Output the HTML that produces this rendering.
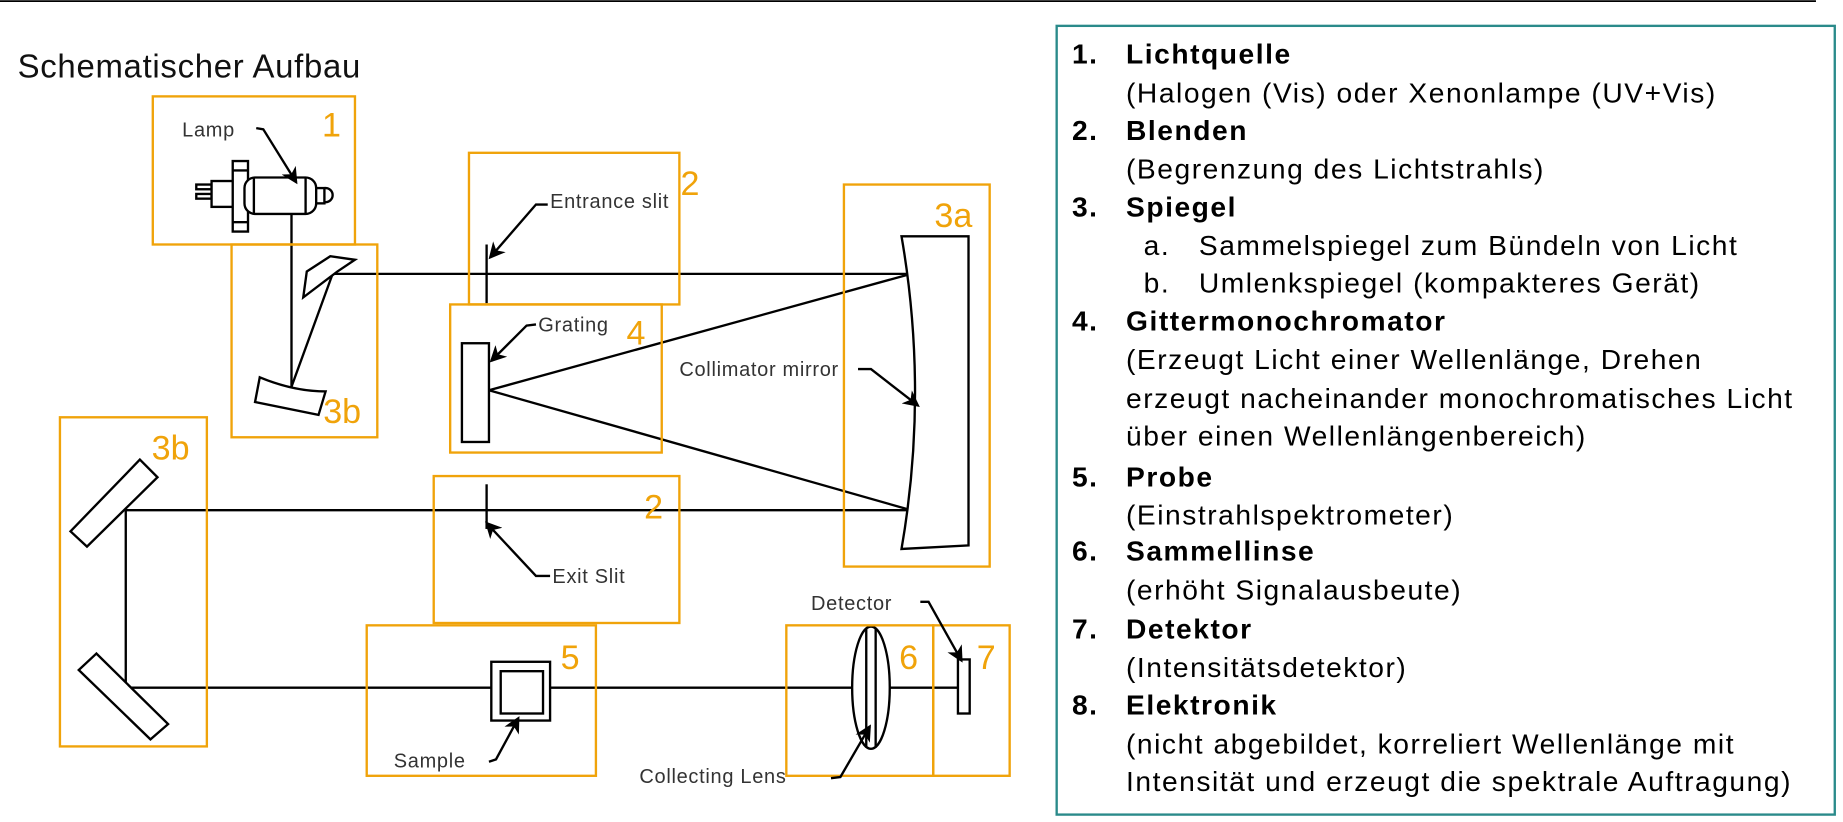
<!DOCTYPE html>
<html><head><meta charset="utf-8"><style>
html,body{margin:0;padding:0;background:#fff;}
svg{display:block;}
text{font-family:"Liberation Sans",sans-serif;}
.o{fill:none;stroke:#f0a30a;stroke-width:2;}
.k{fill:none;stroke:#000;stroke-width:2;}
.kf{fill:#fff;stroke:#000;stroke-width:2;}
.num{fill:#f0a30a;font-size:29px;}
.lab{fill:#333;font-size:17px;letter-spacing:0.6px;}
.r{font-size:24px;fill:#000;letter-spacing:1.3px;}
.b{font-weight:bold;}
</style></head><body>
<svg width="1843" height="822" viewBox="0 0 1568 699.3" preserveAspectRatio="none" xmlns="http://www.w3.org/2000/svg">
<defs><marker id="ah" markerWidth="14" markerHeight="14" refX="12" refY="7" orient="auto" markerUnits="userSpaceOnUse"><path d="M0,0 L14,7 L0,14 L4,7 z" fill="#000"/></marker></defs>
<line x1="0" y1="1" x2="1545" y2="1" stroke="#000" stroke-width="1.5"/>
<text x="15" y="66" font-size="28" fill="#111" letter-spacing="0.6">Schematischer Aufbau</text>

<g class="k" stroke-width="2">
<line x1="248" y1="182" x2="248" y2="329"/>
<line x1="248" y1="329" x2="283" y2="233"/>
<line x1="283" y1="233" x2="775" y2="233"/>
<line x1="416" y1="332" x2="775" y2="233"/>
<line x1="416" y1="332" x2="775" y2="434"/>
<line x1="107" y1="434" x2="775" y2="434"/>
<line x1="107" y1="434" x2="107" y2="585"/>
<line x1="107" y1="585" x2="820" y2="585"/>
<line x1="414" y1="208" x2="414" y2="258"/>
<line x1="414" y1="412" x2="414" y2="450"/>
</g>

<g class="kf" stroke-width="1.8">
<rect x="167" y="157" width="13" height="4"/>
<rect x="167" y="165" width="13" height="4"/>
<rect x="180" y="154" width="19" height="22"/>
<rect x="198" y="137" width="13" height="60"/>
<line x1="198" y1="145" x2="211" y2="145"/><line x1="198" y1="189" x2="211" y2="189"/>
<circle cx="277" cy="166" r="6"/>
<rect x="266" y="160" width="10" height="13"/>
<rect x="208" y="151" width="61" height="31" rx="9"/>
<line x1="216" y1="151" x2="216" y2="182"/><line x1="260" y1="151" x2="260" y2="182"/>
</g>

<polygon class="kf" points="261,231 281,218 302,221 287,231 258,253"/>
<path class="kf" d="M221,321 Q250,333 277,333 L271,353 L217,342 Z"/>

<rect class="kf" x="393" y="292" width="23" height="84"/>

<path class="kf" d="M767,201 L824,201 L824,464 L767,467 Q790,334 767,201 Z"/>

<polygon class="kf" points="119,391 134,406 74,465 60,452"/>
<polygon class="kf" points="82,556 67,570 128,629 143,616"/>

<rect class="kf" x="418" y="563" width="50" height="50"/>
<rect class="kf" x="426" y="571" width="36" height="36"/>

<ellipse class="kf" cx="741" cy="585" rx="16" ry="52"/>
<line class="k" x1="737" y1="534" x2="737" y2="636"/><line class="k" x1="745" y1="534" x2="745" y2="636"/>

<rect class="kf" x="815" y="561" width="10" height="46"/>

<rect class="o" x="130" y="82" width="172" height="126"/>
<rect class="o" x="197" y="208" width="124" height="164"/>
<rect class="o" x="399" y="130" width="179" height="129"/>
<rect class="o" x="718" y="157" width="124" height="325"/>
<rect class="o" x="383" y="259" width="180" height="126"/>
<rect class="o" x="369" y="405" width="209" height="125"/>
<rect class="o" x="51" y="355" width="125" height="280"/>
<rect class="o" x="312" y="532" width="195" height="128"/>
<rect class="o" x="669" y="532" width="125" height="128"/>
<rect class="o" x="794" y="532" width="65" height="128"/>

<text class="num" x="274" y="116">1</text>
<text class="num" x="275" y="360">3b</text>
<text class="num" x="579" y="166">2</text>
<text class="num" x="795" y="193">3a</text>
<text class="num" x="533" y="293">4</text>
<text class="num" x="548" y="441">2</text>
<text class="num" x="129" y="391">3b</text>
<text class="num" x="477" y="569">5</text>
<text class="num" x="765" y="569">6</text>
<text class="num" x="831" y="569">7</text>

<g class="k" stroke-width="1.8">
<path d="M218,109 L224,110 L252,155" marker-end="url(#ah)"/>
<path d="M466,174 L456,174 L417,219" marker-end="url(#ah)"/>
<path d="M456,276 L448,277 L418,307" marker-end="url(#ah)"/>
<path d="M730,314 L741,314 L781,345" marker-end="url(#ah)"/>
<path d="M468,490 L456,490 L414,445" marker-end="url(#ah)"/>
<path d="M416,648 L422,646 L441,611" marker-end="url(#ah)"/>
<path d="M707,662 L715,661 L740,618" marker-end="url(#ah)"/>
<path d="M783,512 L790,512 L818,562" marker-end="url(#ah)"/>
</g>
<text class="lab" x="155" y="116">Lamp</text>
<text class="lab" x="468" y="177">Entrance slit</text>
<text class="lab" x="458" y="282">Grating</text>
<text class="lab" x="578" y="320">Collimator mirror</text>
<text class="lab" x="470" y="496">Exit Slit</text>
<text class="lab" x="690" y="519">Detector</text>
<text class="lab" x="335" y="653">Sample</text>
<text class="lab" x="544" y="666">Collecting Lens</text>

<rect x="899" y="22" width="662" height="671" fill="none" stroke="#2a8a8a" stroke-width="2"/>
<g class="r">
<text x="912" y="54" class="b">1.</text><text x="958" y="54" class="b">Lichtquelle</text>
<text x="958" y="87">(Halogen (Vis) oder Xenonlampe (UV+Vis)</text>
<text x="912" y="119" class="b">2.</text><text x="958" y="119" class="b">Blenden</text>
<text x="958" y="152">(Begrenzung des Lichtstrahls)</text>
<text x="912" y="184" class="b">3.</text><text x="958" y="184" class="b">Spiegel</text>
<text x="973" y="217">a.</text><text x="1020" y="217">Sammelspiegel zum Bündeln von Licht</text>
<text x="973" y="249">b.</text><text x="1020" y="249">Umlenkspiegel (kompakteres Gerät)</text>
<text x="912" y="281" class="b">4.</text><text x="958" y="281" class="b">Gittermonochromator</text>
<text x="958" y="314">(Erzeugt Licht einer Wellenlänge, Drehen</text>
<text x="958" y="347">erzeugt nacheinander monochromatisches Licht</text>
<text x="958" y="379">über einen Wellenlängenbereich)</text>
<text x="912" y="414" class="b">5.</text><text x="958" y="414" class="b">Probe</text>
<text x="958" y="446">(Einstrahlspektrometer)</text>
<text x="912" y="477" class="b">6.</text><text x="958" y="477" class="b">Sammellinse</text>
<text x="958" y="510">(erhöht Signalausbeute)</text>
<text x="912" y="543" class="b">7.</text><text x="958" y="543" class="b">Detektor</text>
<text x="958" y="576">(Intensitätsdetektor)</text>
<text x="912" y="608" class="b">8.</text><text x="958" y="608" class="b">Elektronik</text>
<text x="958" y="641">(nicht abgebildet, korreliert Wellenlänge mit</text>
<text x="958" y="673">Intensität und erzeugt die spektrale Auftragung)</text>
</g>
</svg>
</body></html>
